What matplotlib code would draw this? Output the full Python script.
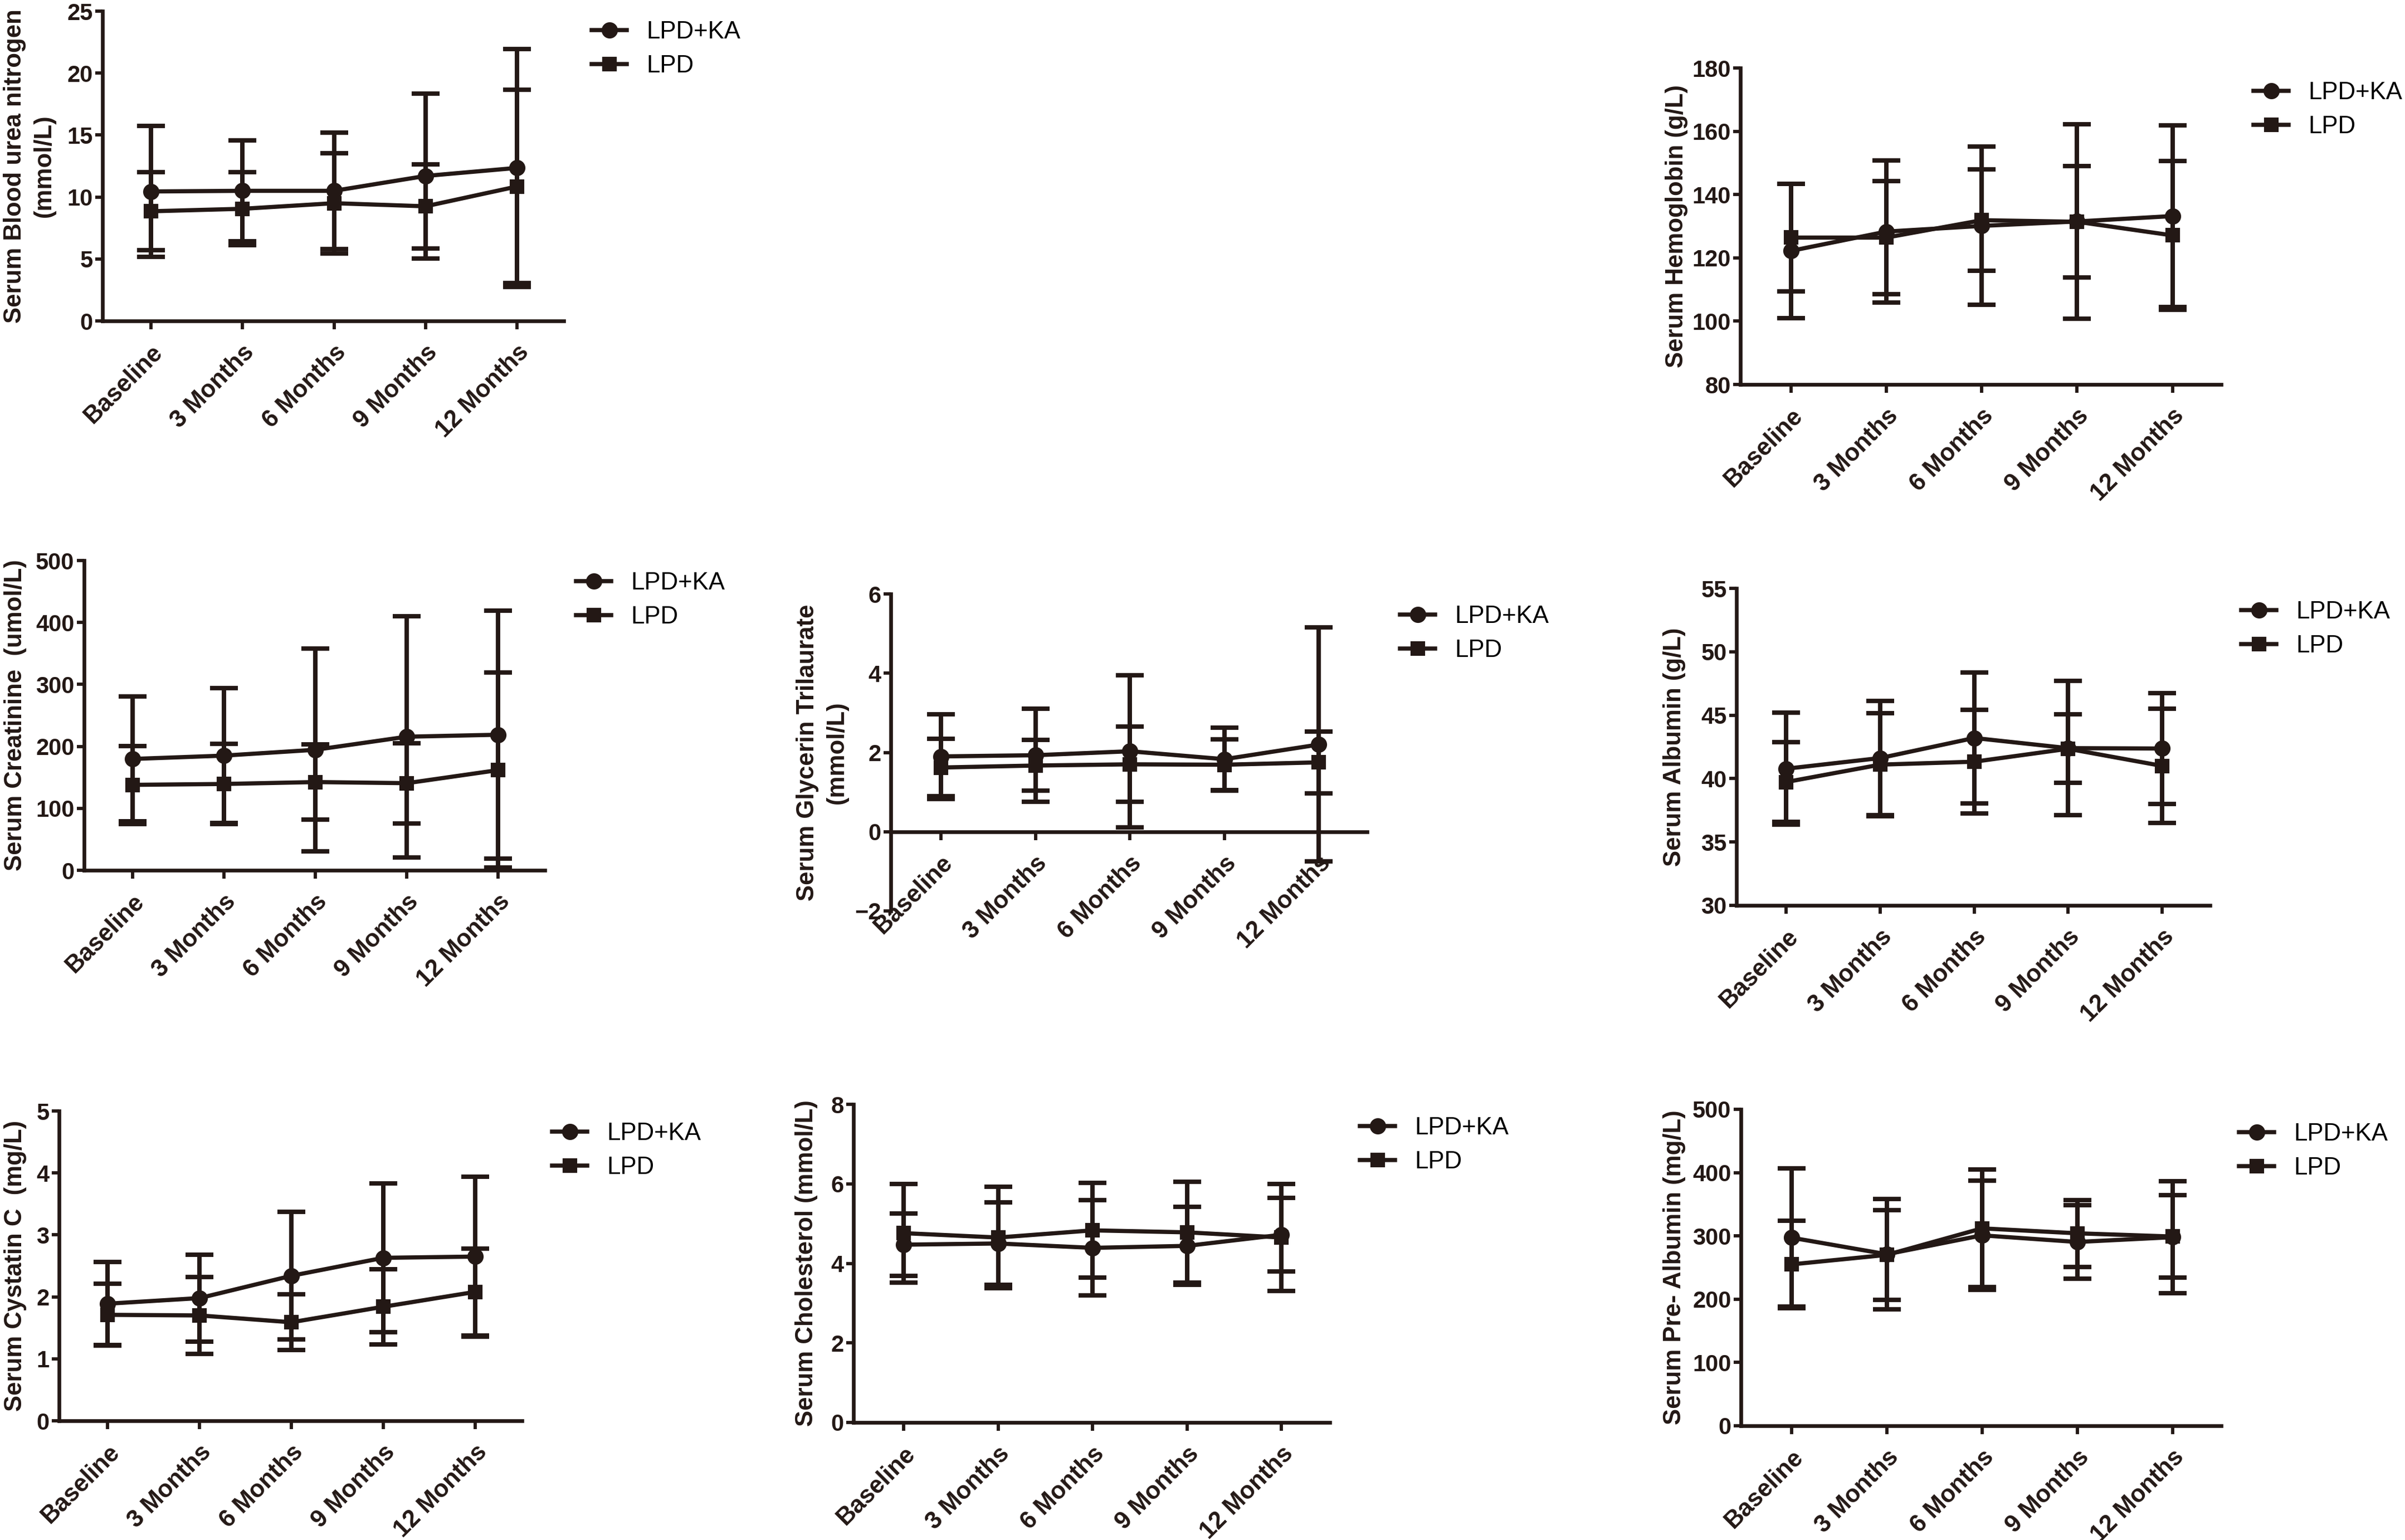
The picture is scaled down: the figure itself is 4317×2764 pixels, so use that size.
import numpy as np
import matplotlib
matplotlib.use("Agg")
import matplotlib.pyplot as plt

# ---- data (mean, SD) ----
timepoints = ["Baseline", "3 Months", "6 Months", "9 Months", "12 Months"]

bun_ka_mean = [10.45, 10.5, 10.5, 11.7, 12.35]
bun_ka_sd = [5.3, 4.05, 4.7, 6.65, 9.6]
bun_lpd_mean = [8.85, 9.05, 9.5, 9.25, 10.85]
bun_lpd_sd = [3.15, 2.95, 4.05, 3.4, 7.8]

hgb_ka_mean = [122.2, 128.3, 130.1, 131.5, 133.2]
hgb_ka_sd = [21.2, 22.5, 25.0, 30.8, 28.7]
hgb_lpd_mean = [126.4, 126.4, 131.9, 131.4, 127.1]
hgb_lpd_sd = [17.0, 17.9, 16.0, 17.6, 23.5]

scr_ka_mean = [179.7, 185.1, 194.5, 215.6, 218.8]
scr_ka_sd = [101.0, 109.0, 163.5, 194.6, 200.3]
scr_lpd_mean = [137.9, 139.3, 142.4, 140.6, 161.7]
scr_lpd_sd = [62.9, 65.0, 61.0, 64.7, 157.3]

tg_ka_mean = [1.9, 1.93, 2.03, 1.83, 2.2]
tg_ka_sd = [1.07, 1.17, 1.92, 0.8, 2.95]
tg_lpd_mean = [1.62, 1.67, 1.7, 1.69, 1.75]
tg_lpd_sd = [0.73, 0.64, 0.95, 0.64, 0.78]

alb_ka_mean = [40.78, 41.62, 43.2, 42.4, 42.37]
alb_ka_sd = [4.42, 4.49, 5.15, 5.3, 4.38]
alb_lpd_mean = [39.73, 41.1, 41.33, 42.35, 41.0]
alb_lpd_sd = [3.15, 4.05, 4.1, 2.7, 4.5]

cysc_ka_mean = [1.89, 1.98, 2.34, 2.63, 2.65]
cysc_ka_sd = [0.67, 0.7, 1.03, 1.2, 1.29]
cysc_lpd_mean = [1.71, 1.7, 1.59, 1.84, 2.08]
cysc_lpd_sd = [0.5, 0.62, 0.45, 0.61, 0.7]

chol_ka_mean = [4.47, 4.5, 4.39, 4.44, 4.72]
chol_ka_sd = [0.79, 1.04, 1.2, 0.98, 0.93]
chol_lpd_mean = [4.76, 4.65, 4.83, 4.78, 4.65]
chol_lpd_sd = [1.24, 1.28, 1.19, 1.27, 1.35]

pab_ka_mean = [297.2, 271.0, 300.9, 290.4, 298.0]
pab_ka_sd = [109.2, 87.0, 86.0, 58.2, 88.7]
pab_lpd_mean = [255.0, 270.0, 311.9, 304.1, 299.0]
pab_lpd_sd = [69.0, 71.0, 93.0, 52.8, 65.0]

# ---- figure setup ----
W, H = 4317, 2764
DPI = 300
C = "#231815"
narrow = ["Liberation Sans Narrow", "Liberation Sans", "DejaVu Sans"]
sans = ["Liberation Sans", "DejaVu Sans"]
plt.rcParams["font.family"] = sans

fig = plt.figure(figsize=(W / DPI, H / DPI), dpi=DPI)
fig.patch.set_facecolor("white")

# (ylabel, ka mean, ka sd, lpd mean, lpd sd, ylim, ystep,
#  axes box px (left, right, top, bottom), ylabel centre x px, legend px (x, y))
panels = [
    ("Serum Blood urea nitrogen\n(mmol/L)", bun_ka_mean, bun_ka_sd, bun_lpd_mean, bun_lpd_sd,
     (0, 25), 5, (184, 1012, 20, 576), 53, (1062, 88)),
    ("Serum Hemoglobin (g/L)", hgb_ka_mean, hgb_ka_sd, hgb_lpd_mean, hgb_lpd_sd,
     (80, 180), 20, (3124, 3987, 122, 690), 3010, (4045, 197)),
    ("Serum Creatinine  (umol/L)", scr_ka_mean, scr_ka_sd, scr_lpd_mean, scr_lpd_sd,
     (0, 500), 100, (151, 978, 1006, 1562), 28, (1034, 1077)),
    ("Serum Glycerin Trilaurate\n(mmol/L)", tg_ka_mean, tg_ka_sd, tg_lpd_mean, tg_lpd_sd,
     (-2, 6), 2, (1599, 2454, 1066, 1635), 1476, (2513, 1137)),
    ("Serum Albumin (g/L)", alb_ka_mean, alb_ka_sd, alb_lpd_mean, alb_lpd_sd,
     (30, 55), 5, (3117, 3967, 1056, 1625), 3006, (4023, 1129)),
    ("Serum Cystatin C  (mg/L)", cysc_ka_mean, cysc_ka_sd, cysc_lpd_mean, cysc_lpd_sd,
     (0, 5), 1, (106, 937, 1994, 2550), 28, (991, 2065)),
    ("Serum Cholesterol (mmol/L)", chol_ka_mean, chol_ka_sd, chol_lpd_mean, chol_lpd_sd,
     (0, 8), 2, (1532, 2387, 1982, 2553), 1447, (2441, 2055)),
    ("Serum Pre- Albumin (mg/L)", pab_ka_mean, pab_ka_sd, pab_lpd_mean, pab_lpd_sd,
     (0, 500), 100, (3125, 3987, 1991, 2559), 3006, (4019, 2066)),
]

x = np.arange(len(timepoints))

for (ylab, ka_m, ka_s, lpd_m, lpd_s, ylim, ystep, box, labx, legpos) in panels:
    l, r, t, b = box
    ax = fig.add_axes([l / W, 1 - b / H, (r - l) / W, (b - t) / H])

    # x axis crosses at zero when the scale goes negative
    if ylim[0] < 0:
        ax.spines["bottom"].set_position(("data", 0))

    eb_lpd = ax.errorbar(x, lpd_m, yerr=lpd_s, fmt="-s", color=C, lw=1.8, ms=5.5,
                         elinewidth=1.9, capsize=6, capthick=1.9, label="LPD",
                         clip_on=False)
    eb_ka = ax.errorbar(x, ka_m, yerr=ka_s, fmt="-o", color=C, lw=1.8, ms=6,
                        elinewidth=1.9, capsize=6, capthick=1.9, label="LPD+KA",
                        clip_on=False)

    ax.set_xlim(-0.53, 4.51)
    ax.set_ylim(*ylim)
    ax.set_yticks(np.arange(ylim[0], ylim[1] + ystep * 0.5, ystep))
    ax.set_xticks(x)
    ax.set_xticklabels(timepoints, rotation=45, ha="right", va="top",
                       rotation_mode="anchor", fontweight="bold", fontsize=10.5,
                       family=sans)
    for lab in ax.get_yticklabels():
        lab.set_fontfamily(narrow)
        lab.set_fontweight("bold")
        lab.set_fontsize(10)

    for s in ["top", "right"]:
        ax.spines[s].set_visible(False)
    for s in ["left", "bottom"]:
        ax.spines[s].set_linewidth(1.6)
        ax.spines[s].set_color(C)

    ax.tick_params(axis="y", direction="out", length=3.2, width=1.4, pad=1,
                   colors=C)
    ax.tick_params(axis="x", direction="out", length=3.6, width=1.4, pad=5,
                   colors=C)

    ax.set_ylabel(ylab, fontsize=10.5, fontweight="bold", color=C, va="center",
                  ha="center", linespacing=1.35, family=sans)
    ax.yaxis.set_label_coords((labx - l) / (r - l), 0.5)

    lx, ly = legpos
    ax.legend(handles=[eb_ka.lines[0], eb_lpd.lines[0]], labels=["LPD+KA", "LPD"],
              loc="center left", bbox_to_anchor=(lx / W, 1 - ly / H),
              bbox_transform=fig.transFigure, frameon=False, borderpad=0,
              borderaxespad=0, handlelength=1.45, handletextpad=0.8,
              labelspacing=0.45, prop={"family": sans, "size": 10.5})

fig.savefig("out.png", dpi=DPI, facecolor="white")
